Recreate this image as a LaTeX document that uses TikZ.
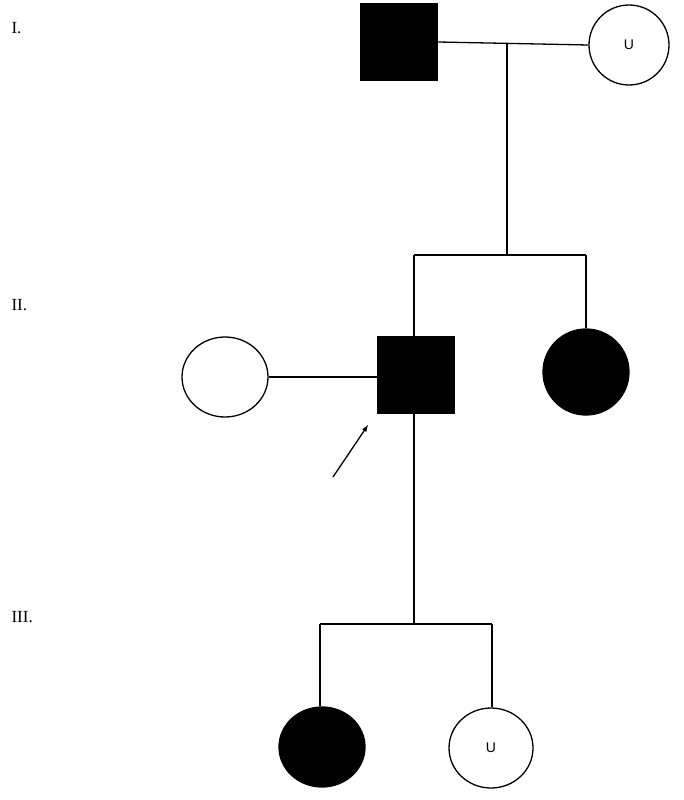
\documentclass[tikz,border=0pt]{standalone}
\usepackage{fontspec}
\setmainfont{Liberation Serif}
\newfontfamily\usans{Liberation Sans}
\usetikzlibrary{shapes.geometric}
\begin{document}
\begin{tikzpicture}[x=1pt,y=-1pt,
  ln/.style={line width=1.3pt},
  sq/.style={draw,line width=1.3pt,fill=black,minimum size=77pt,inner sep=0pt},
  circ/.style={draw,ellipse,line width=1.3pt,inner sep=0pt,minimum width=86pt,minimum height=80pt},
  lab/.style={font=\fontsize{17}{17}\selectfont,anchor=west}]
\useasboundingbox (0,0) rectangle (684,800);
\node[lab] (g1) at (8,28) {I.};
\node[lab] (g2) at (8,305) {II.};
\node[lab] (g3) at (8,617) {III.};
\node[sq] (f1) at (399,42) {};
\node[circ,minimum width=80pt] (m1) at (629,45) {\usans\fontsize{14}{14}\selectfont U};
\draw[ln] (f1.east) -- (m1.west);
\coordinate (d1) at (507,43);
\coordinate (s1) at (507,255);
\draw[ln] (d1) -- (s1);
\node[sq] (p) at (416,375) {};
\node[circ] (w) at (225,377) {};
\node[circ,fill=black,minimum height=86pt] (sis) at (586,372) {};
\coordinate (sl) at (414,255);
\coordinate (sr) at (586,255);
\draw[ln] (sl) -- (sr);
\draw[ln] (sl) -- (sl|-p.north);
\draw[ln] (sr) -- (sis.north);
\draw[ln] (w.east) -- (w.east-|p.west);
\coordinate (at) at (333,477);
\draw[ln,-latex] (at) -- (368,425);
\coordinate (d2) at (414,624);
\draw[ln] (p.south-|d2) -- (d2);
\coordinate (tl) at (320,624);
\coordinate (tr) at (492,624);
\draw[ln] (tl) -- (tr);
\node[circ,fill=black] (c1) at (322,747) {};
\node[circ,minimum width=84pt] (c2) at (491,748) {\usans\fontsize{14}{14}\selectfont U};
\draw[ln] (tl) -- (tl|-c1.north);
\draw[ln] (tr) -- (tr|-c2.north);
\end{tikzpicture}
\end{document}
